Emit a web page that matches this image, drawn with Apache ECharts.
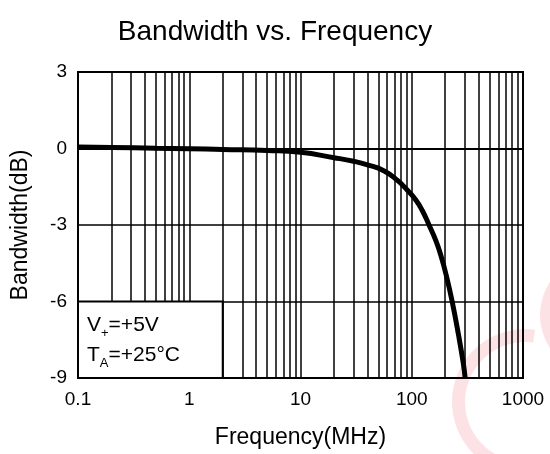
<!DOCTYPE html>
<html><head><meta charset="utf-8">
<script src="https://cdn.jsdelivr.net/npm/echarts@6/dist/echarts.min.js"></script>
<style>html,body{margin:0;padding:0;background:#fff}#c{width:550px;height:454px}</style>
</head><body><div id="c"></div>
<script>
// Data
const freqMHz = [0.1, 0.2, 0.5, 1, 2, 5, 10, 20, 30, 40, 56, 74, 91, 108, 124, 143, 165, 182, 205, 232, 263, 290, 302];
const bandwidthDB = [0.06, 0.04, 0.01, -0.01, -0.04, -0.08, -0.15, -0.36, -0.5, -0.64, -0.87, -1.24, -1.63, -2.0, -2.42, -3.0, -3.62, -4.17, -5.0, -6.05, -7.3, -8.4, -9.0];
const xTickLabels = ['0.1', '1', '10', '100', '1000'];
const yTickLabels = ['-9', '-6', '-3', '0', '3'];
const decades = [0.1, 1, 10, 100];
const minorMultipliers = [2, 3, 4, 5, 6, 7, 8, 9];
const noteLines = ['V', '+', '=+5V', 'T', 'A', '=+25°C'];

const minorGrid = [];
decades.forEach(d => minorMultipliers.forEach(m => minorGrid.push(+(d * m).toPrecision(3))));

const FONT = 'Liberation Sans, Arial, sans-serif';
const chart = echarts.init(document.getElementById('c'), null, {renderer: 'canvas'});
chart.setOption({
  backgroundColor: '#fff',
  animation: false,
  title: {
    text: 'Bandwidth vs. Frequency', left: 'center', top: 13,
    textStyle: {fontFamily: FONT, fontSize: 28, fontWeight: 'normal', color: '#000'}
  },
  graphic: [
    {type: 'sector', z: -10, shape: {cx: 525, cy: 402, r0: 60, r: 73, startAngle: 1.3, endAngle: 4.85}, style: {fill: '#fde2e5'}},
    {type: 'sector', z: -10, shape: {cx: 600, cy: 315, r0: 47, r: 60, startAngle: 2.55, endAngle: 3.8}, style: {fill: '#fde2e5'}}
  ],
  grid: {left: 78, right: 27, top: 72, bottom: 76, show: true, borderColor: '#000', borderWidth: 2, backgroundColor: 'transparent'},
  xAxis: {
    type: 'log', logBase: 10, min: 0.1, max: 1000,
    name: 'Frequency(MHz)', nameLocation: 'middle', nameGap: 48,
    nameTextStyle: {fontFamily: FONT, fontSize: 23, color: '#000'},
    axisLine: {show: true, lineStyle: {color: '#000', width: 2}},
    axisTick: {show: false},
    axisLabel: {fontFamily: FONT, fontSize: 19, color: '#000', margin: 12,
      formatter: v => { const i = xTickLabels.indexOf(String(+v.toPrecision(3))); return i >= 0 ? xTickLabels[i] : String(v); }},
    splitLine: {show: true, lineStyle: {color: '#000', width: 1.5}}
  },
  yAxis: {
    type: 'value', min: -9, max: 3, interval: 3,
    name: 'Bandwidth(dB)', nameLocation: 'middle', nameGap: 46, nameRotate: 90,
    nameTextStyle: {fontFamily: FONT, fontSize: 23, color: '#000'},
    axisLine: {show: true, lineStyle: {color: '#000', width: 2}},
    axisTick: {show: false},
    axisLabel: {fontFamily: FONT, fontSize: 19, color: '#000', margin: 11,
      formatter: v => yTickLabels[yTickLabels.indexOf(String(v))] || String(v)},
    splitLine: {show: true, lineStyle: {color: '#000', width: 1.5}}
  },
  series: [
    {
      type: 'line', z: 1, data: [], silent: true,
      markLine: {
        z: 1, silent: true, symbol: 'none', label: {show: false}, animation: false,
        lineStyle: {color: '#000', width: 1.5, type: 'solid'},
        data: minorGrid.map(v => ({xAxis: v}))
      }
    },
    {
      type: 'line', z: 2, data: [], silent: true,
      markArea: {
        z: 8, silent: true,
        itemStyle: {color: '#fff', borderColor: '#000', borderWidth: 2},
        label: {
          show: true, position: 'insideLeft', distance: 10,
          formatter: '{n|' + noteLines[0] + '}{s|' + noteLines[1] + '}{n|' + noteLines[2] + '}\n{n|' + noteLines[3] + '}{s|' + noteLines[4] + '}{n|' + noteLines[5] + '}',
          rich: {
            n: {fontFamily: FONT, fontSize: 21, color: '#000', lineHeight: 30},
            s: {fontFamily: FONT, fontSize: 13, color: '#000', lineHeight: 13, verticalAlign: 'bottom'}
          }
        },
        data: [[{xAxis: 0.1, yAxis: -9}, {xAxis: 2, yAxis: -6}]]
      }
    },
    {
      type: 'line', z: 3, smooth: 0.5, showSymbol: false, silent: true,
      lineStyle: {color: '#000', width: 5},
      data: freqMHz.map((f, i) => [f, bandwidthDB[i]])
    }
  ]
});
</script></body></html>
